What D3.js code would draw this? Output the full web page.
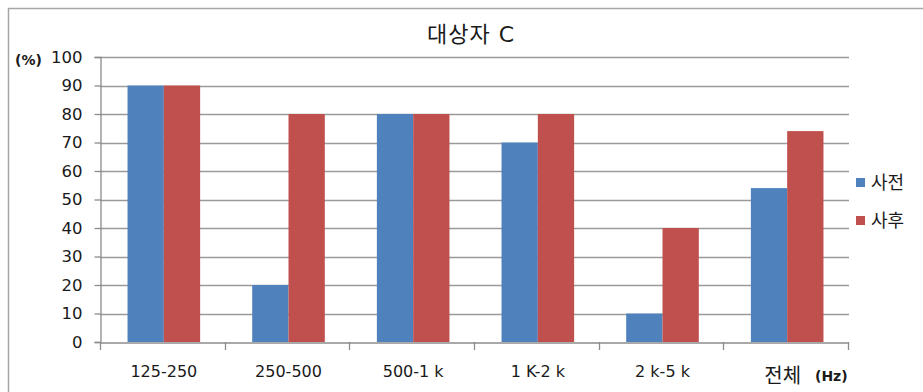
<!DOCTYPE html>
<html>
<head>
<meta charset="utf-8">
<script src="https://cdn.jsdelivr.net/npm/d3@7"></script>
<style>
  body { margin: 0; background: #fff; }
  svg { display: block; }
  text { font-family: "DejaVu Sans", "Noto Sans CJK KR", sans-serif; fill: #1a1a1a; }
</style>
</head>
<body>
<svg id="chart" width="923" height="392"></svg>
<script>
// Frequency bands and percentages before (사전) and after (사후)
const categories = ["125-250", "250-500", "500-1 k", "1 K-2 k", "2 k-5 k", "전체"];
const seriesNames = ["사전", "사후"];
const before = [90, 20, 80, 70, 10, 54];
const after = [90, 80, 80, 80, 40, 74];
const yTicks = [0, 10, 20, 30, 40, 50, 60, 70, 80, 90, 100];
const colors = ["#4f81bd", "#c0504d"];

const svg = d3.select("#chart");
const W = 923, H = 392;
const plot = { left: 100, right: 848, top: 57, bottom: 342 };

// Outer chart frame (extends past the visible area on the right and bottom)
svg.append("rect")
  .attr("x", 8.5).attr("y", 8.5)
  .attr("width", W + 20).attr("height", H + 20)
  .attr("fill", "none").attr("stroke", "#a6a6a6").attr("stroke-width", 1.5);

const x = d3.scaleBand().domain(categories).range([plot.left, plot.right]).paddingInner(0).paddingOuter(0);
const groupInner = d3.scaleBand().domain(seriesNames).range([0, x.bandwidth()]).paddingOuter(0.717).paddingInner(0);
const y = d3.scaleLinear().domain([0, 100]).range([plot.bottom, plot.top]);

// Horizontal gridlines
svg.append("g").selectAll("line").data(yTicks.filter(d => d > 0)).join("line")
  .attr("x1", plot.left).attr("x2", plot.right + 1)
  .attr("y1", d => Math.round(y(d)) + 0.5).attr("y2", d => Math.round(y(d)) + 0.5)
  .attr("stroke", "#9a9a9a").attr("stroke-width", 1.3);

// Bars
const data = categories.map((c, i) => ({ cat: c, vals: [before[i], after[i]] }));
const groups = svg.append("g").selectAll("g").data(data).join("g")
  .attr("transform", d => `translate(${x(d.cat) + 1.5},0)`);
groups.selectAll("rect").data(d => d.vals.map((v, j) => ({ name: seriesNames[j], v, j }))).join("rect")
  .attr("x", d => groupInner(d.name))
  .attr("width", groupInner.bandwidth())
  .attr("y", d => y(d.v))
  .attr("height", d => y(0) - y(d.v))
  .attr("fill", d => colors[d.j]);

// Y axis
const yAxis = d3.axisLeft(y).tickValues(yTicks).tickSize(6).tickPadding(12);
const gy = svg.append("g").attr("transform", `translate(${plot.left + 0.5},0)`).call(yAxis);
gy.select(".domain").attr("stroke", "#8c8c8c").attr("stroke-width", 1.3);
gy.selectAll(".tick line").attr("stroke", "#8c8c8c").attr("stroke-width", 1.3);
gy.selectAll(".tick text").attr("font-size", 16.5).attr("font-family", "DejaVu Sans, sans-serif").style("fill", "#1a1a1a");

// X axis
const xAxis = d3.axisBottom(x).tickSize(0).tickFormat("");
const gx = svg.append("g").attr("transform", `translate(0,${plot.bottom + 0.5})`).call(xAxis);
gx.select(".domain").attr("stroke", "#8c8c8c").attr("stroke-width", 1.3);
// Tick marks between categories
const boundaries = categories.map(c => x(c)).concat([plot.right]);
svg.append("g").selectAll("line").data(boundaries).join("line")
  .attr("x1", d => Math.round(d) + 0.5).attr("x2", d => Math.round(d) + 0.5)
  .attr("y1", plot.bottom).attr("y2", plot.bottom + 8)
  .attr("stroke", "#8c8c8c").attr("stroke-width", 1.3);

// Category labels
svg.append("g").selectAll("text").data(categories).join("text")
  .attr("x", d => x(d) + x.bandwidth() / 2 + (d === "전체" ? -3 : 1.5))
  .attr("y", d => d === "전체" ? 383 : 377)
  .attr("text-anchor", "middle")
  .attr("font-size", d => d === "전체" ? 20 : 16)
  .attr("font-family", d => d === "전체" ? "Noto Sans CJK KR, sans-serif" : null)
  .text(d => d);

// Unit labels
svg.append("text").attr("x", 15).attr("y", 65).attr("font-size", 14).attr("font-weight", "bold").text("(%)");
svg.append("text").attr("x", 815).attr("y", 381).attr("font-size", 14).attr("font-weight", "bold").text("(Hz)");

// Title
svg.append("text").attr("x", 471).attr("y", 42).attr("text-anchor", "middle")
  .attr("font-size", 22).attr("letter-spacing", 1)
  .attr("font-family", "Noto Sans CJK KR, sans-serif").text("대상자 C");

// Legend
const legend = svg.append("g").selectAll("g").data(seriesNames).join("g")
  .attr("transform", (d, i) => `translate(856,${182 + i * 38})`);
legend.append("rect").attr("x", 0).attr("y", -4).attr("width", 9).attr("height", 9)
  .attr("fill", (d, i) => colors[i]);
legend.append("text").attr("x", 15).attr("y", 6.5).attr("font-size", 18)
  .attr("font-family", "Noto Sans CJK KR, sans-serif").text(d => d);
</script>
</body>
</html>
